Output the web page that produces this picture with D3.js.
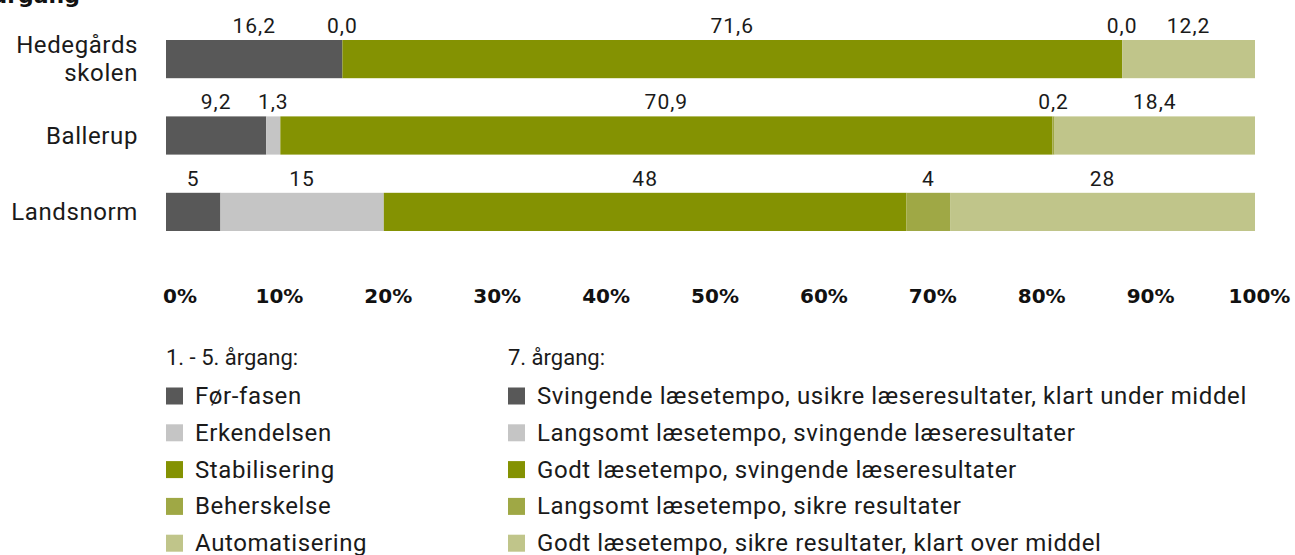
<!DOCTYPE html>
<html>
<head>
<meta charset="utf-8">
<script src="https://cdn.jsdelivr.net/npm/d3@7"></script>
<style>
  body { margin: 0; background: #fff; }
  svg { font-family: Roboto, "DejaVu Sans", sans-serif; }
</style>
</head>
<body>
<div class="outer-container"></div>
<script>
const schools = ['Hedegårds skolen', 'Ballerup', 'Landsnorm']
const phases = ['Før-fasen', 'Erkendelsen', 'Stabilisering', 'Beherskelse', 'Automatisering']
const phases7 = [
  'Svingende læsetempo, usikre læseresultater, klart under middel',
  'Langsomt læsetempo, svingende læseresultater',
  'Godt læsetempo, svingende læseresultater',
  'Langsomt læsetempo, sikre resultater',
  'Godt læsetempo, sikre resultater, klart over middel'
]
const values = [
  [16.2, 0.0, 71.6, 0.0, 12.2],
  [9.2, 1.3, 70.9, 0.2, 18.4],
  [5, 15, 48, 4, 28]
]
const valueLabels = [
  ['16,2', '0,0', '71,6', '0,0', '12,2'],
  ['9,2', '1,3', '70,9', '0,2', '18,4'],
  ['5', '15', '48', '4', '28']
]
const tickValues = [0, 10, 20, 30, 40, 50, 60, 70, 80, 90, 100]
const colors = ['#585858', '#c5c5c5', '#849202', '#9fa845', '#c0c58a']

const w = 1295
const h = 555

const svg = d3.select('.outer-container')
              .append('svg')
              .attr('width', w)
              .attr('height', h)

const xScale = d3.scaleLinear().domain([0, 100]).range([166, 1255])
const yScale = d3.scaleBand()
                 .domain(schools)
                 .range([40, 231])
                 .paddingInner(0.5)
                 .paddingOuter(0)

// cut-off title at the top
svg.append('text')
   .attr('x', 80)
   .attr('y', 3)
   .attr('text-anchor', 'end')
   .style('font-family', '"DejaVu Sans", sans-serif')
   .style('font-weight', 'bold')
   .style('font-size', '22px')
   .attr('fill', '#111')
   .text('7. årgang')

schools.forEach((s, i) => {
  let acc = 0
  const segs = values[i].map((v, j) => {
    const seg = { x0: acc, x1: acc + v, j: j, label: valueLabels[i][j] }
    acc += v
    return seg
  })

  const g = svg.append('g')

  g.selectAll('rect')
   .data(segs)
   .enter()
   .append('rect')
   .attr('x', d => xScale(d.x0))
   .attr('y', yScale(s))
   .attr('width', d => xScale(d.x1) - xScale(d.x0))
   .attr('height', yScale.bandwidth())
   .attr('fill', d => colors[d.j])

  g.selectAll('text.val')
   .data(segs)
   .enter()
   .append('text')
   .attr('class', 'val')
   .attr('x', d => xScale((d.x0 + d.x1) / 2))
   .attr('y', yScale(s) - 7)
   .attr('text-anchor', 'middle')
   .style('font-size', '21px')
   .style('letter-spacing', '1px')
   .attr('fill', '#1a1a1a')
   .text(d => d.label)

  const parts = s === 'Hedegårds skolen' ? ['Hedegårds', 'skolen'] : [s]
  const cy = yScale(s) + yScale.bandwidth() / 2
  parts.forEach((p, k) => {
    svg.append('text')
       .attr('x', 138)
       .attr('y', cy + 8 + (k - (parts.length - 1) / 2) * 28)
       .attr('text-anchor', 'end')
       .style('font-size', '24px')
       .style('letter-spacing', '0.6px')
       .attr('fill', '#1a1a1a')
       .text(p)
  })
})

// x axis (labels only)
const labelScale = d3.scaleLinear().domain([0, 100]).range([170, 1259])
const xAxis = d3.axisBottom(labelScale)
                .tickValues(tickValues)
                .tickSize(0)
                .tickFormat(d => d + '%')

const axisG = svg.append('g')
   .attr('id', 'x-axis')
   .attr('transform', 'translate(0, 286)')
   .call(xAxis)
   .call(g => g.select('.domain').remove())

axisG.selectAll('text')
   .style('font-size', '20px')
   .style('font-weight', 'bold')
   .style('font-family', '"DejaVu Sans", sans-serif')
   .attr('fill', '#111')
   .each(function () {
     // keep labels from sticking out left of the plot
     const b = this.getBBox()
     const tx = +this.parentNode.getAttribute('transform').match(/translate\(([-\d.]+)/)[1]
     if (tx + b.x < 163) d3.select(this).attr('x', 163 - (tx + b.x))
   })

// legends
const legendY = d3.scaleBand().domain(d3.range(5)).range([376, 560])

function legend(x, title, names) {
  const lg = svg.append('g')
  lg.append('text')
    .attr('x', x)
    .attr('y', 365)
    .style('font-size', '22px')
    .attr('fill', '#1a1a1a')
    .text(title)
  lg.selectAll('rect')
    .data(names)
    .enter()
    .append('rect')
    .attr('x', x)
    .attr('y', (d, i) => legendY(i) + 11.5)
    .attr('width', 17)
    .attr('height', 17)
    .attr('fill', (d, i) => colors[i])
  lg.selectAll('text.item')
    .data(names)
    .enter()
    .append('text')
    .attr('class', 'item')
    .attr('x', x + 29)
    .attr('y', (d, i) => legendY(i) + 28)
    .style('font-size', '24px')
    .style('letter-spacing', '0.6px')
    .attr('fill', '#1a1a1a')
    .text(d => d)
}

legend(166, '1. - 5. årgang:', phases)
legend(508, '7. årgang:', phases7)
</script>
</body>
</html>
